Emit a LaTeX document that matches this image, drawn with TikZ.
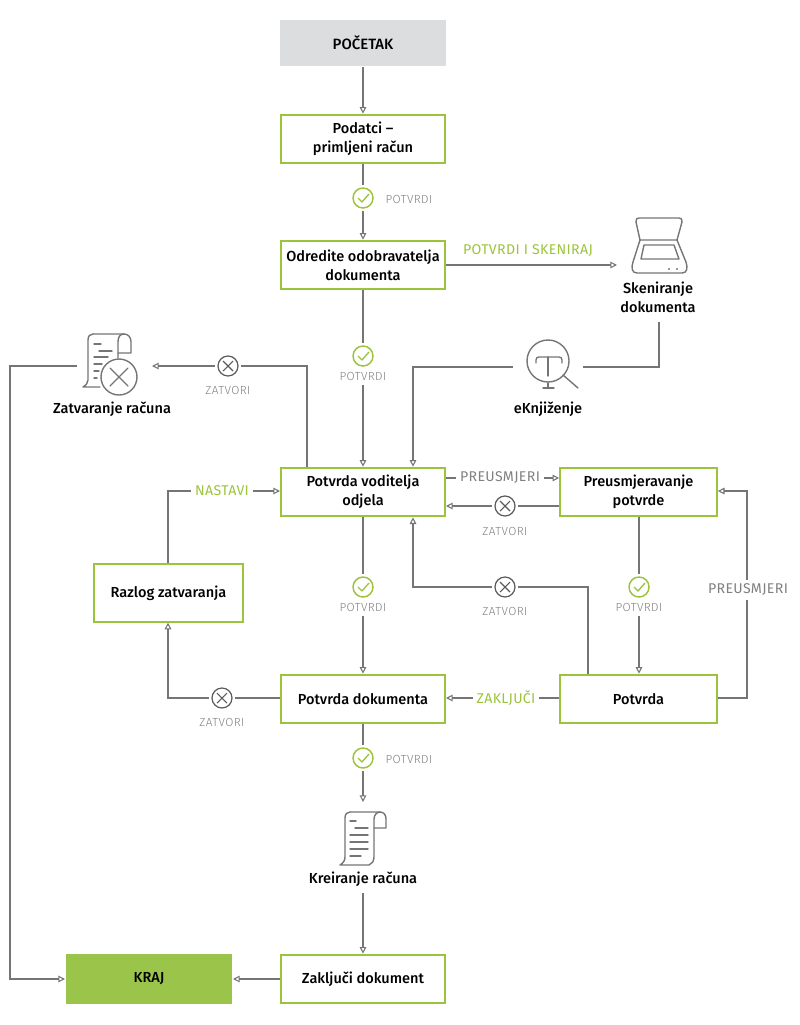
\documentclass[tikz,border=0pt]{standalone}
\usepackage{fontspec}
\setmainfont[UprightFont={* Medium},BoldFont={* SemiBold}]{Fira Sans}
\newfontfamily\labfont[UprightFont={* Light},LetterSpace=3.5]{Fira Sans}
\newfontfamily\labgfont[LetterSpace=2.5]{Fira Sans}
\usetikzlibrary{arrows.meta,calc}
\definecolor{gr}{HTML}{9CC33C}
\definecolor{krajc}{HTML}{9BC44A}
\definecolor{pocc}{HTML}{DCDDDE}
\definecolor{ln}{HTML}{757575}
\definecolor{lbl}{HTML}{808080}
\definecolor{ink}{HTML}{5A5A5A}
\tikzset{
 x=0.75pt,y=-0.75pt,
 boxn/.style={draw=gr,line width=1.5pt,fill=white,align=center,inner sep=0pt,font=\fontsize{10.9}{14.5}\selectfont,text=black},
 wide/.style={boxn,minimum width=123pt,minimum height=36.5pt},
 plain/.style={align=center,inner sep=0pt,font=\fontsize{10.9}{14.5}\selectfont,text=black},
 lab/.style={inner sep=0pt,font=\labfont\fontsize{8.8}{10}\selectfont,text=lbl},
 labb/.style={inner sep=0pt,outer sep=3pt,font=\labgfont\fontsize{10.6}{12}\selectfont,text=lbl},
 labg/.style={inner sep=0pt,outer sep=3pt,font=\labgfont\fontsize{10.6}{12}\selectfont,text=gr},
 con/.style={draw=ln,line width=1pt},
 arr/.style={con,-{Triangle[open,length=5pt,width=5pt,line width=.8pt]}},
 ico/.style={draw=ln,line width=1.05pt,line join=round,line cap=round},
 chk/.style={circle,draw=gr,line width=1.1pt,minimum size=15pt,inner sep=0pt,outer sep=2.5pt,
   path picture={\draw[gr,line width=1pt,line join=round]
     ([shift={(-5,0)}]path picture bounding box.center) -- ([shift={(-1,4)}]path picture bounding box.center) -- ([shift={(6,-4)}]path picture bounding box.center);}},
 xc/.style={circle,draw=ink,line width=.9pt,minimum size=15pt,inner sep=0pt,outer sep=2.5pt,
   path picture={\draw[ink,line width=.8pt]
     ([shift={(-5,-5)}]path picture bounding box.center) -- ([shift={(5,5)}]path picture bounding box.center)
     ([shift={(-5,5)}]path picture bounding box.center) -- ([shift={(5,-5)}]path picture bounding box.center);}},
}
\begin{document}
\begin{tikzpicture}
\path[use as bounding box] (0,0) rectangle (800,1025);
% boxes
\node[wide,draw=none,fill=pocc,minimum width=124.5pt,minimum height=35pt,font=\fontsize{11.2}{14}\selectfont] (poc) at (363,43) {POČETAK};
\node[wide] (pod) at (363,139) {Podatci --\\primljeni račun};
\node[wide] (odr) at (363,265) {Odredite odobravatelja\\dokumenta};
\node[wide] (pv) at (363,492) {Potvrda voditelja\\odjela};
\node[boxn,minimum width=117.5pt,minimum height=36.5pt] (pre) at (638.5,492) {Preusmjeravanje\\potvrde};
\node[boxn,minimum width=111.5pt,minimum height=43pt] (raz) at (168.5,593) {Razlog zatvaranja};
\node[wide] (pd) at (363,699) {Potvrda dokumenta};
\node[boxn,minimum width=117.5pt,minimum height=36.5pt] (pot) at (638.5,699) {Potvrda};
\node[wide] (zak) at (363,979) {Zaključi dokument};
\node[wide,draw=none,fill=krajc,minimum width=124.5pt,minimum height=38pt] (kraj) at (149,979) {KRAJ};
% status icons and their labels
\node[chk] (c1) at (363,198) {};
\node[lab] (l1) at (409,199) {POTVRDI};
\node[chk] (c2) at (363,356) {};
\node[lab,outer sep=4pt] (l2) at (363,376) {POTVRDI};
\node[chk] (c3) at (363,587) {};
\node[lab,outer sep=4pt] (l3) at (363,607) {POTVRDI};
\node[chk] (c4) at (639,587) {};
\node[lab,outer sep=4pt] (l4) at (639,607) {POTVRDI};
\node[chk] (c5) at (363,758) {};
\node[lab] (l5) at (409,759) {POTVRDI};
\node[xc] (x1) at (228,366) {};
\node[lab] (xl1) at (228,390) {ZATVORI};
\node[xc] (x2) at (505,506) {};
\node[lab] (xl2) at (505,531) {ZATVORI};
\node[xc] (x3) at (505,587) {};
\node[lab] (xl3) at (505,611) {ZATVORI};
\node[xc] (x4) at (222,698) {};
\node[lab] (xl4) at (222,722) {ZATVORI};
% other labels
\node[labg] (skl) at (528,251) {POTVRDI I SKENIRAJ};
\node[labg] (nas) at (222,491) {NASTAVI};
\node[labg] (zkl) at (506,698) {ZAKLJUČI};
\node[labb] (prl) at (500,478) {PREUSMJERI};
\node[labb] (prr) at (748,590) {PREUSMJERI};
% text under icons
\node[plain] (zr) at (112,409) {Zatvaranje računa};
\node[plain] (ske) at (658,297) {Skeniranje\\dokumenta};
\node[plain] (ek) at (548,409) {eKnjiženje};
\node[plain] (kr) at (363,879) {Kreiranje računa};
% icon anchors
\coordinate (scanw) at (617,265);
\coordinate (sked) at (659,322);
\coordinate (eke) at (583,367);
\coordinate (ekw) at (513,367);
\coordinate (zre) at (152,366);
\coordinate (zrw) at (77,366);
\coordinate (krt) at (363,802);
\coordinate (krb) at (363,893);
% bends
\coordinate (b1) at (659,367);
\coordinate (b2) at (413,367);
\coordinate (b3) at (307,366);
\coordinate (b4) at (10,366);
\coordinate (b5) at (10,979);
\coordinate (b6) at (168,491);
\coordinate (b7) at (168,698);
\coordinate (b8) at (747,698);
\coordinate (b9) at (747,491);
\coordinate (b10) at (588,587);
\coordinate (b11) at (413,587);
% connectors
\draw[arr] (poc.south) -- (pod.north);
\draw[con] (pod.south) -- (c1.north);
\draw[arr] (c1.south) -- (odr.north);
\draw[con] (odr.south) -- (c2.north);
\draw[arr] (l2.south) -- (pv.north);
\draw[arr] (odr.east) -- (scanw);
\draw[con] (sked) -- (b1) -- (eke);
\draw[arr] (ekw) -- (b2) -- (pv.north -| b2);
\draw[con,line width=1.3pt] (pv.north -| b3) -- (b3) -- (x1.east);
\draw[arr] (x1.west) -- (zre);
\draw[arr] (zrw) -- (b4) -- (b5) -- (kraj.west);
\draw[con] (raz.north -| b6) -- (b6) -- (nas.west);
\draw[arr] (nas.east) -- (pv.west |- nas.east);
\draw[con] (pv.east |- prl.west) -- (prl.west);
\draw[arr] (prl.east) -- (pre.west |- prl.east);
\draw[con] (pre.west |- x2.east) -- (x2.east);
\draw[arr] (x2.west) -- (pv.east |- x2.west);
\draw[con] (pv.south) -- (c3.north);
\draw[arr] (l3.south) -- (pd.north);
\draw[con] (pre.south -| c4) -- (c4.north);
\draw[arr] (l4.south) -- (pot.north -| l4.south);
\draw[con] (pd.west |- x4.east) -- (x4.east);
\draw[arr] (x4.west) -- (b7) -- (raz.south -| b7);
\draw[con] (pot.west |- zkl.east) -- (zkl.east);
\draw[arr] (zkl.west) -- (pd.east |- zkl.west);
\draw[arr] (pot.east |- b8) -- (b8) -- (b9) -- (pre.east |- b9);
\fill[white] (prr.south west) rectangle (prr.north east);
\node[labb] at (prr) {PREUSMJERI};
\draw[con] (pot.north -| b10) -- (b10) -- (x3.east);
\draw[arr] (x3.west) -- (b11) -- (pv.south -| b11);
\draw[con] (pd.south) -- (c5.north);
\draw[arr] (c5.south) -- (krt);
\draw[arr] (krb) -- (zak.north);
\draw[arr] (zak.west) -- (kraj.east);
% scanner icon
\draw[ico] (640,240) -- (636,222) .. controls (635.5,219) and (637,218) .. (639,218) -- (679,218) .. controls (681,218) and (682.5,219) .. (682,222) -- (677,240);
\draw[ico] (640,240) -- (677,240) -- (686,262) .. controls (688,268) and (687,273) .. (682,273) -- (637,273) .. controls (632,273) and (631,268) .. (633,262) -- cycle;
\draw[ico] (644,245) -- (674,245) -- (679,259) -- (641,259) -- cycle;
\fill[ln] (669,269) circle (1.2) (677,269) circle (1.2);
% magnifier icon
\draw[ico] (548,361) circle (21);
\draw[ico] (536,363) -- (536,360) .. controls (536,358) and (537,357) .. (539,357) -- (559,357) .. controls (561,357) and (562,358) .. (562,360) -- (562,363);
\draw[ico] (548,357) -- (548,376);
\draw[ico] (548,383) -- (548,388) (543,388) -- (554,388);
\draw[ico] (563,375) -- (578,388);
% receipt icon
\draw[ico] (350,812) -- (380,812) .. controls (384,812) and (386,815) .. (386,819) -- (386,828) -- (374,828);
\draw[ico] (350,812) .. controls (347,812) and (345,814) .. (345,818) -- (345,857) .. controls (345,861) and (343,863) .. (340,865) -- (369,865) .. controls (372,864) and (374,861) .. (374,857) -- (374,819) .. controls (374,815) and (377,812) .. (380,812);
\draw[ico] (350,821) -- (356,821) (355,828) -- (368,828) (350,835) -- (368,835) (350,842) -- (368,842) (350,849) -- (368,849) (350,856) -- (361,856);
% closed receipt icon
\draw[ico] (93,334) -- (124,334) .. controls (128,334) and (131,337) .. (131,342) -- (131,353) -- (118,353);
\draw[ico] (118,358) -- (118,342) .. controls (118,337) and (120,334) .. (124,334);
\draw[ico] (93,334) .. controls (90,334) and (88,336) .. (88,340) -- (88,380) .. controls (88,383) and (86,385) .. (83,387) -- (100,387);
\draw[ico] (119,377) circle (18);
\draw[ico] (110,368) -- (128,386) (110,386) -- (128,368);
\draw[ico] (94,344) -- (101,344) (99,351) -- (112,351) (94,357) -- (108,357) (94,364) -- (102,364) (94,371) -- (99,371) (94,378) -- (97,378);
\end{tikzpicture}
\end{document}
